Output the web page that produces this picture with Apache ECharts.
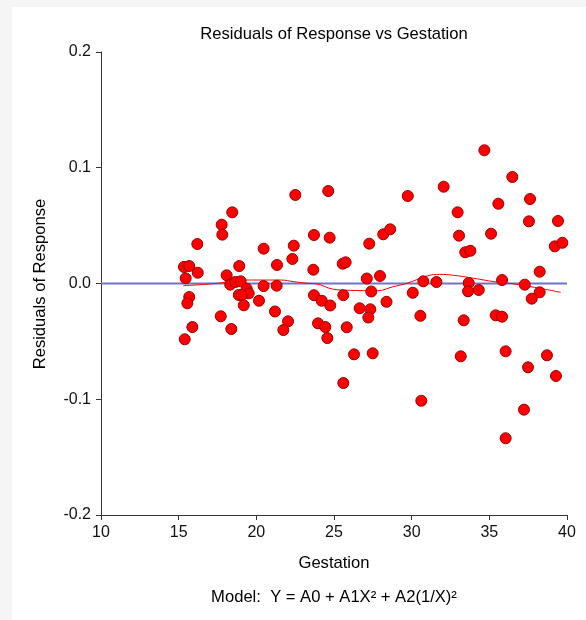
<!DOCTYPE html>
<html>
<head>
<meta charset="utf-8">
<script src="https://cdn.jsdelivr.net/npm/echarts@6/dist/echarts.min.js"></script>
<style>
    html, body { margin: 0; padding: 0; background: #f5f5f5; }
    #panel { position: absolute; left: 12px; top: 7px; width: 574px; height: 613px; background: #fff; }
    #chart-resid { width: 574px; height: 613px; }
</style>
</head>
<body>
<div id="panel"><div id="chart-resid"></div></div>
<script>
// scatter points: gestation vs residual
var gestation = [22.51, 18.45, 17.77, 17.81, 16.20, 20.47, 22.41, 22.32, 21.33, 15.34,
    15.68, 16.23, 15.45, 18.90, 18.09, 18.32, 18.65, 18.99, 19.38, 19.51,
    18.87, 19.06, 20.47, 21.31, 15.68, 15.56, 19.19, 20.17, 21.20, 17.71,
    22.04, 15.88, 18.39, 15.39, 21.74, 24.63, 29.75, 23.71, 24.72, 27.27,
    28.17, 28.62, 23.67, 25.56, 25.75, 27.11, 27.96, 30.75, 31.59, 23.71,
    24.21, 24.76, 25.60, 27.40, 28.38, 30.07, 26.65, 27.34, 27.21, 30.56,
    23.97, 24.44, 25.82, 24.57, 26.29, 27.49, 25.60, 30.62, 34.68, 36.48,
    32.06, 35.58, 37.62, 32.96, 37.55, 39.42, 33.05, 35.11, 39.21, 39.70,
    33.45, 33.78, 38.24, 33.67, 33.63, 34.32, 35.82, 37.28, 38.24, 37.73,
    33.35, 35.41, 35.82, 33.16, 36.05, 38.71, 37.49, 39.29, 37.23, 36.05];
var residual = [0.0765, 0.0615, 0.0508, 0.0422, 0.0341, 0.0301, 0.0327, 0.0212, 0.0160, 0.0143,
    0.0151, 0.0093, 0.0045, 0.0151, 0.0071, -0.0010, 0.0013, 0.0019, -0.0045, -0.0085,
    -0.0099, -0.0099, -0.0022, -0.0019, -0.0117, -0.0171, -0.0188, -0.0149, -0.0242, -0.0283,
    -0.0327, -0.0376, -0.0393, -0.0482, -0.0402, 0.0799, 0.0756, 0.0419, 0.0396, 0.0344,
    0.0425, 0.0468, 0.0119, 0.0171, 0.0183, 0.0043, 0.0065, 0.0019, 0.0013, -0.0101,
    -0.0149, -0.0190, -0.0101, -0.0069, -0.0158, -0.0080, -0.0214, -0.0223, -0.0294, -0.0279,
    -0.0344, -0.0376, -0.0378, -0.0471, -0.0612, -0.0603, -0.0860, -0.1013, 0.1151, 0.0920,
    0.0836, 0.0689, 0.0730, 0.0615, 0.0537, 0.0540, 0.0413, 0.0430, 0.0321, 0.0352,
    0.0270, 0.0283, 0.0102, 0.0004, -0.0067, -0.0056, 0.0030, -0.0010, -0.0076, -0.0131,
    -0.0318, -0.0275, -0.0287, -0.0629, -0.0586, -0.0620, -0.0724, -0.0799, -0.1090, -0.1337];

// smoothed (loess) trend
var trendX = [15.3, 17.2, 19.4, 21.6, 22.4, 23.3, 23.9, 24.9, 26.0, 27.8, 28.8, 29.7, 31.0, 31.8, 32.7, 34.0, 35.3, 36.6, 37.9, 39.6];
var trendY = [-0.0019, -0.0002, 0.0030, 0.0030, 0.0016, 0.0002, -0.0004, -0.0048, -0.0059, -0.0062, -0.0028, 0.0002, 0.0065, 0.0079, 0.0071, 0.0045, 0.0016, -0.0004, -0.0033, -0.0076];

// zero reference line
var zeroX = [10, 40];
var zeroY = [0, 0];

var xTicks = [10, 15, 20, 25, 30, 35, 40];
var yTicks = [-0.2, -0.1, 0.0, 0.1, 0.2];

var FONT = "'Liberation Sans', Arial, sans-serif";

function pairs(xs, ys) {
    let out = [];
    for (let i = 0; i < xs.length; i++) {
        out.push([xs[i], ys[i]]);
    }
    return out;
}

var chartDom = document.getElementById('chart-resid');
var myChart = echarts.init(chartDom);

var axisLineStyle = { color: '#333', width: 1 };

var option = {
    animation: false,
    backgroundColor: '#fff',
    textStyle: { fontFamily: FONT },
    grid: {
        left: 89,
        top: 45,
        width: 466,
        height: 463,
        containLabel: false
    },
    xAxis: {
        type: 'value',
        min: xTicks[0],
        max: xTicks[xTicks.length - 1],
        interval: 5,
        axisLine: { show: true, onZero: false, lineStyle: axisLineStyle },
        axisTick: { show: true, length: 5, lineStyle: axisLineStyle },
        splitLine: { show: false },
        axisLabel: { fontSize: 16, color: '#111', margin: 10, fontFamily: FONT }
    },
    yAxis: {
        type: 'value',
        min: yTicks[0],
        max: yTicks[yTicks.length - 1],
        interval: 0.1,
        axisLine: { show: true, onZero: false, lineStyle: axisLineStyle },
        axisTick: { show: true, length: 5, lineStyle: axisLineStyle },
        splitLine: { show: false },
        axisLabel: {
            fontSize: 16,
            color: '#111',
            margin: 10,
            fontFamily: FONT,
            formatter: function (value) {
                return (Math.abs(value) < 1e-9 ? 0 : value).toFixed(1);
            }
        }
    },
    graphic: [
        {
            type: 'text', x: 322, y: 27,
            style: { text: 'Residuals of Response vs Gestation', font: '16.6px ' + FONT, fill: '#000', textAlign: 'center', textVerticalAlign: 'middle' }
        },
        {
            type: 'text', x: 28, y: 277, rotation: Math.PI / 2,
            style: { text: 'Residuals of Response', font: '16.6px ' + FONT, fill: '#000', textAlign: 'center', textVerticalAlign: 'middle' }
        },
        {
            type: 'text', x: 322, y: 556,
            style: { text: 'Gestation', font: '16.6px ' + FONT, fill: '#000', textAlign: 'center', textVerticalAlign: 'middle' }
        },
        {
            type: 'text', x: 322, y: 590,
            style: { text: 'Model:  Y = A0 + A1X\u00b2 + A2(1/X)\u00b2', font: '16.6px ' + FONT, fill: '#000', textAlign: 'center', textVerticalAlign: 'middle' }
        }
    ],
    series: [
        {
            type: 'line',
            data: pairs(zeroX, zeroY),
            symbol: 'none',
            lineStyle: { color: '#7272cc', width: 2 },
            z: 1,
            silent: true
        },
        {
            type: 'line',
            data: pairs(trendX, trendY),
            symbol: 'none',
            smooth: 0.4,
            lineStyle: { color: '#ff0000', width: 1 },
            z: 2,
            silent: true
        },
        {
            type: 'scatter',
            data: pairs(gestation, residual),
            symbol: 'circle',
            symbolSize: 11,
            itemStyle: { color: '#ff0000', opacity: 1, borderColor: '#990000', borderWidth: 1 },
            z: 3
        }
    ]
};

myChart.setOption(option);
</script>
</body>
</html>
